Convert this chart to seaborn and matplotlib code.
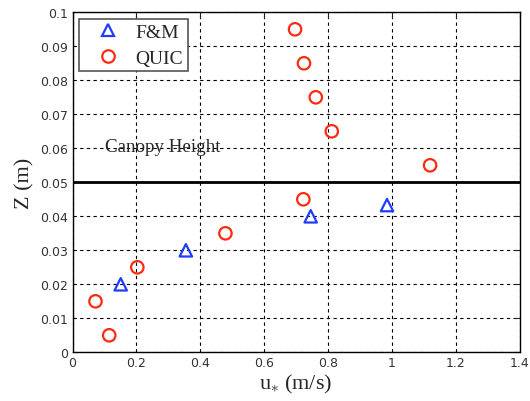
import matplotlib
matplotlib.use("Agg")
import matplotlib.pyplot as plt
import seaborn as sns
import pandas as pd
from matplotlib.lines import Line2D

fm_u = [0.151, 0.355, 0.746, 0.985]
fm_z = [0.020, 0.030, 0.040, 0.0433]
quic_u = [0.072, 0.115, 0.203, 0.479, 0.723, 0.697, 0.725, 0.762, 0.812, 1.12]
quic_z = [0.015, 0.005, 0.025, 0.035, 0.045, 0.095, 0.085, 0.075, 0.065, 0.055]
series = ["F&M", "QUIC"]
canopy_height = 0.05
xticks = [0, 0.2, 0.4, 0.6, 0.8, 1, 1.2, 1.4]
yticks = [0, 0.01, 0.02, 0.03, 0.04, 0.05, 0.06, 0.07, 0.08, 0.09, 0.1]

df = pd.DataFrame({
    "u": fm_u + quic_u,
    "z": fm_z + quic_z,
    "src": [series[0]] * len(fm_u) + [series[1]] * len(quic_u),
})

sns.set_style("white")
plt.rcParams["mathtext.fontset"] = "custom"
plt.rcParams["mathtext.rm"] = "Liberation Serif"
plt.rcParams["mathtext.it"] = "Liberation Serif:italic"

fig = plt.figure(figsize=(5.30, 4.02), dpi=100)
ax = fig.add_axes([72.5 / 530, 1 - 353.3 / 402, 447 / 530, 340 / 402])

colors = {"F&M": "#1f3dff", "QUIC": "#ff2a10"}
markers = {"F&M": "^", "QUIC": "o"}
sns.scatterplot(data=df, x="u", y="z", hue="src", style="src",
                palette=colors, markers=markers, hue_order=series, style_order=series,
                s=80, linewidth=1.6, ax=ax, legend=False, zorder=4)
for coll in ax.collections:
    fc = coll.get_facecolors()
    coll.set_edgecolors(fc)
    coll.set_facecolors("none")

ax.axhline(canopy_height, color="black", lw=2, zorder=1)
ax.text(0.102, 0.0605, "Canopy Height", family="Liberation Serif", fontsize=13.7,
        va="center", ha="left", zorder=3)

ax.set_xlim(0, 1.4)
ax.set_ylim(0, 0.1)
ax.set_xticks(xticks)
ax.set_yticks(yticks)
ax.set_xticklabels([f"{t:g}" for t in xticks], fontsize=9, color="#333333")
ax.set_yticklabels([f"{t:g}" for t in yticks], fontsize=9, color="#333333")
ax.grid(True, color="black", linestyle=(0, (3, 3)), linewidth=0.8)
ax.tick_params(direction="in", top=True, right=True, length=4, width=0.8, pad=3)
for sp in ax.spines.values():
    sp.set_color("black")
    sp.set_linewidth(1)
ax.set_axisbelow(True)

ax.set_xlabel(r"u$_{\ast}$ (m/s)", family="Liberation Serif", fontsize=16, labelpad=2)
ax.set_ylabel("Z (m)", family="Liberation Serif", fontsize=16, labelpad=4)

handles = [Line2D([], [], marker=markers[s], color=colors[s], markerfacecolor="none",
                  markersize=9, markeredgewidth=1.6, linestyle="none") for s in series]
leg = ax.legend(handles, series, loc="upper left", bbox_to_anchor=(0, 1),
                borderaxespad=0.33,
                prop={"family": "Liberation Serif", "size": 14}, frameon=True,
                fancybox=False, edgecolor="#555555", framealpha=1, borderpad=0.22,
                handletextpad=0.2, labelspacing=0.45, handlelength=2.5)
leg.get_frame().set_linewidth(1.2)

fig.savefig("out.png", dpi=100)
